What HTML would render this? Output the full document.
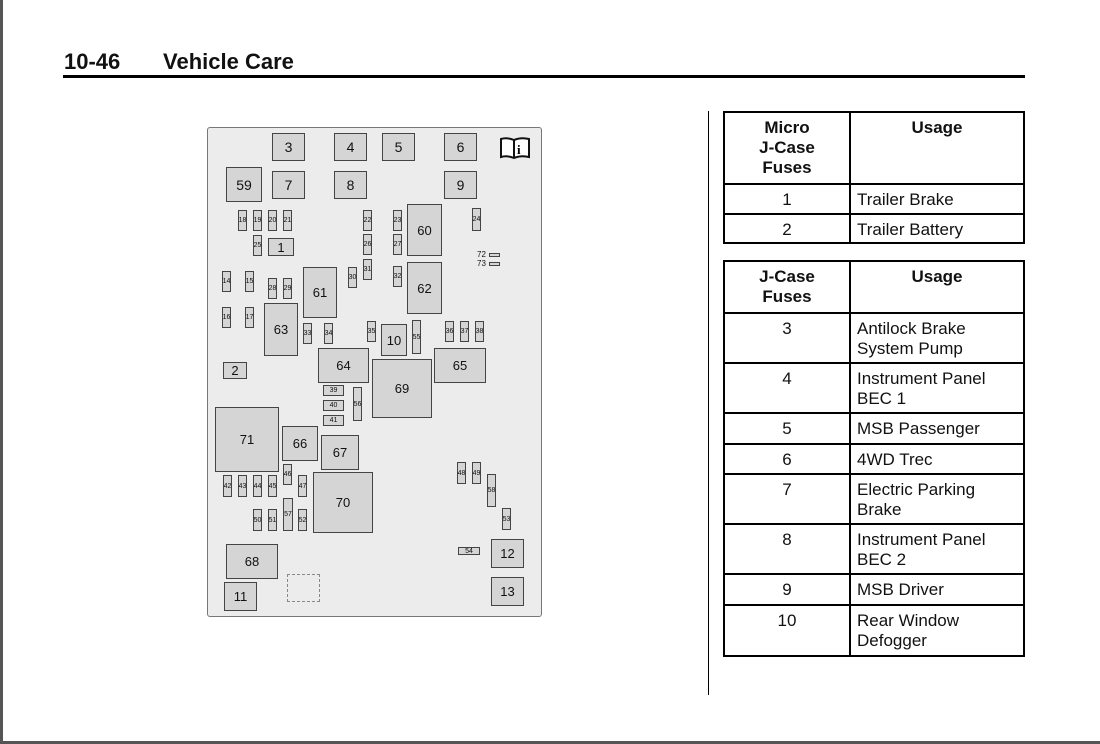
<!DOCTYPE html>
<html><head><meta charset="utf-8"><style>
*{margin:0;padding:0;box-sizing:border-box}
body{width:1100px;height:744px;background:#fff;position:relative;overflow:hidden;font-family:"Liberation Sans",Arial,sans-serif;color:#111}
.a{position:absolute}
.b{position:absolute;background:#d5d5d5;border:1px solid #444;display:flex;align-items:center;justify-content:center;font-size:14px;color:#111}
.s{font-size:7px}
.m{font-size:13px}
.cell{position:absolute;border:2px solid #000;font-size:17px;line-height:20px;padding-top:5px}
.c{text-align:center}
.l{padding-left:6px}
.h{font-weight:bold;text-align:center}
</style></head><body>
<div class="a" style="left:0;top:0;width:3px;height:744px;background:#555"></div>
<div class="a" style="left:0;top:741px;width:1100px;height:3px;background:#555"></div>
<div class="a" style="left:64px;top:49px;font-size:22px;font-weight:bold">10-46</div>
<div class="a" style="left:163px;top:49px;font-size:22px;font-weight:bold">Vehicle Care</div>
<div class="a" style="left:63px;top:75px;width:962px;height:3px;background:#000"></div>
<div class="a" style="left:708px;top:111px;width:1px;height:584px;background:#000"></div>

<div class="a" style="left:207px;top:127px;width:335px;height:490px;background:#ececec;border:1px solid #777;border-radius:3px"></div>
<div class="b" style="left:272px;top:133px;width:33px;height:28px">3</div>
<div class="b" style="left:334px;top:133px;width:33px;height:28px">4</div>
<div class="b" style="left:382px;top:133px;width:33px;height:28px">5</div>
<div class="b" style="left:444px;top:133px;width:33px;height:28px">6</div>
<svg class="a" style="left:499px;top:136px" width="32" height="24" viewBox="0 0 32 24"><path d="M2 3 Q8 1 15 4 Q22 1 30 3 V21 Q22 19 15 22 Q8 19 2 21 Z" fill="#fff" stroke="#111" stroke-width="2"/><line x1="15" y1="4" x2="15" y2="22" stroke="#111" stroke-width="2"/><text x="18" y="18" font-size="13" font-weight="bold" font-family="Liberation Serif">i</text></svg>
<div class="b" style="left:226px;top:167px;width:36px;height:35px">59</div>
<div class="b" style="left:272px;top:171px;width:33px;height:28px">7</div>
<div class="b" style="left:334px;top:171px;width:33px;height:28px">8</div>
<div class="b" style="left:444px;top:171px;width:33px;height:28px">9</div>
<div class="b s" style="left:238px;top:210px;width:9px;height:21px">18</div>
<div class="b s" style="left:253px;top:210px;width:9px;height:21px">19</div>
<div class="b s" style="left:268px;top:210px;width:9px;height:21px">20</div>
<div class="b s" style="left:283px;top:210px;width:9px;height:21px">21</div>
<div class="b s" style="left:363px;top:210px;width:9px;height:21px">22</div>
<div class="b s" style="left:393px;top:210px;width:9px;height:21px">23</div>
<div class="b m" style="left:407px;top:204px;width:35px;height:52px">60</div>
<div class="b s" style="left:472px;top:208px;width:9px;height:23px">24</div>
<div class="b s" style="left:253px;top:235px;width:9px;height:21px">25</div>
<div class="b m" style="left:268px;top:238px;width:26px;height:18px">1</div>
<div class="b s" style="left:363px;top:234px;width:9px;height:21px">26</div>
<div class="b s" style="left:393px;top:234px;width:9px;height:21px">27</div>
<div class="a" style="left:477px;top:250px;font-size:8px">72</div>
<div class="a" style="left:477px;top:259px;font-size:8px">73</div>
<div class="a" style="left:489px;top:253px;width:11px;height:4px;border:1px solid #444;background:#d5d5d5"></div>
<div class="a" style="left:489px;top:262px;width:11px;height:4px;border:1px solid #444;background:#d5d5d5"></div>
<div class="b s" style="left:222px;top:271px;width:9px;height:21px">14</div>
<div class="b s" style="left:245px;top:271px;width:9px;height:21px">15</div>
<div class="b s" style="left:268px;top:278px;width:9px;height:21px">28</div>
<div class="b s" style="left:283px;top:278px;width:9px;height:21px">29</div>
<div class="b m" style="left:303px;top:267px;width:34px;height:51px">61</div>
<div class="b s" style="left:348px;top:267px;width:9px;height:21px">30</div>
<div class="b s" style="left:363px;top:259px;width:9px;height:21px">31</div>
<div class="b s" style="left:393px;top:266px;width:9px;height:21px">32</div>
<div class="b m" style="left:407px;top:262px;width:35px;height:52px">62</div>
<div class="b s" style="left:222px;top:307px;width:9px;height:21px">16</div>
<div class="b s" style="left:245px;top:307px;width:9px;height:21px">17</div>
<div class="b m" style="left:264px;top:303px;width:34px;height:53px">63</div>
<div class="b s" style="left:303px;top:323px;width:9px;height:21px">33</div>
<div class="b s" style="left:324px;top:323px;width:9px;height:21px">34</div>
<div class="b s" style="left:367px;top:321px;width:9px;height:21px">35</div>
<div class="b m" style="left:381px;top:324px;width:26px;height:32px">10</div>
<div class="b s" style="left:412px;top:320px;width:9px;height:34px">55</div>
<div class="b s" style="left:445px;top:321px;width:9px;height:21px">36</div>
<div class="b s" style="left:460px;top:321px;width:9px;height:21px">37</div>
<div class="b s" style="left:475px;top:321px;width:9px;height:21px">38</div>
<div class="b m" style="left:318px;top:348px;width:51px;height:35px">64</div>
<div class="b m" style="left:434px;top:348px;width:52px;height:35px">65</div>
<div class="b m" style="left:223px;top:362px;width:24px;height:17px">2</div>
<div class="b m" style="left:372px;top:359px;width:60px;height:59px">69</div>
<div class="b s" style="left:323px;top:385px;width:21px;height:11px">39</div>
<div class="b s" style="left:323px;top:400px;width:21px;height:11px">40</div>
<div class="b s" style="left:323px;top:415px;width:21px;height:11px">41</div>
<div class="b s" style="left:353px;top:387px;width:9px;height:34px">56</div>
<div class="b m" style="left:215px;top:407px;width:64px;height:65px">71</div>
<div class="b m" style="left:282px;top:426px;width:36px;height:35px">66</div>
<div class="b m" style="left:321px;top:435px;width:38px;height:35px">67</div>
<div class="b m" style="left:313px;top:472px;width:60px;height:61px">70</div>
<div class="b s" style="left:283px;top:464px;width:9px;height:21px">46</div>
<div class="b s" style="left:223px;top:475px;width:9px;height:22px">42</div>
<div class="b s" style="left:238px;top:475px;width:9px;height:22px">43</div>
<div class="b s" style="left:253px;top:475px;width:9px;height:22px">44</div>
<div class="b s" style="left:268px;top:475px;width:9px;height:22px">45</div>
<div class="b s" style="left:298px;top:475px;width:9px;height:22px">47</div>
<div class="b s" style="left:253px;top:509px;width:9px;height:22px">50</div>
<div class="b s" style="left:268px;top:509px;width:9px;height:22px">51</div>
<div class="b s" style="left:283px;top:498px;width:10px;height:33px">57</div>
<div class="b s" style="left:298px;top:509px;width:9px;height:22px">52</div>
<div class="b s" style="left:457px;top:462px;width:9px;height:22px">48</div>
<div class="b s" style="left:472px;top:462px;width:9px;height:22px">49</div>
<div class="b s" style="left:487px;top:474px;width:9px;height:33px">58</div>
<div class="b s" style="left:502px;top:508px;width:9px;height:22px">53</div>
<div class="b s" style="left:458px;top:547px;width:22px;height:8px">54</div>
<div class="b m" style="left:491px;top:539px;width:33px;height:29px">12</div>
<div class="b m" style="left:491px;top:577px;width:33px;height:29px">13</div>
<div class="b m" style="left:226px;top:544px;width:52px;height:35px">68</div>
<div class="b m" style="left:224px;top:582px;width:33px;height:29px">11</div>
<div class="a" style="left:287px;top:574px;width:33px;height:28px;border:1px dashed #888"></div>

<!-- table 1 -->
<div class="cell h" style="left:723px;top:111px;width:128px;height:74px">Micro<br>J-Case<br>Fuses</div>
<div class="cell h" style="left:849px;top:111px;width:176px;height:74px">Usage</div>
<div class="cell c" style="left:723px;top:183px;width:128px;height:32px">1</div>
<div class="cell l" style="left:849px;top:183px;width:176px;height:32px">Trailer Brake</div>
<div class="cell c" style="left:723px;top:213px;width:128px;height:31px">2</div>
<div class="cell l" style="left:849px;top:213px;width:176px;height:31px">Trailer Battery</div>
<!-- table 2 -->
<div class="cell h" style="left:723px;top:260px;width:128px;height:54px">J-Case<br>Fuses</div>
<div class="cell h" style="left:849px;top:260px;width:176px;height:54px">Usage</div>
<div class="cell c" style="left:723px;top:312px;width:128px;height:52px">3</div>
<div class="cell l" style="left:849px;top:312px;width:176px;height:52px">Antilock Brake<br>System Pump</div>
<div class="cell c" style="left:723px;top:362px;width:128px;height:52px">4</div>
<div class="cell l" style="left:849px;top:362px;width:176px;height:52px">Instrument Panel<br>BEC 1</div>
<div class="cell c" style="left:723px;top:412px;width:128px;height:33px">5</div>
<div class="cell l" style="left:849px;top:412px;width:176px;height:33px">MSB Passenger</div>
<div class="cell c" style="left:723px;top:443px;width:128px;height:32px">6</div>
<div class="cell l" style="left:849px;top:443px;width:176px;height:32px">4WD Trec</div>
<div class="cell c" style="left:723px;top:473px;width:128px;height:52px">7</div>
<div class="cell l" style="left:849px;top:473px;width:176px;height:52px">Electric Parking<br>Brake</div>
<div class="cell c" style="left:723px;top:523px;width:128px;height:52px">8</div>
<div class="cell l" style="left:849px;top:523px;width:176px;height:52px">Instrument Panel<br>BEC 2</div>
<div class="cell c" style="left:723px;top:573px;width:128px;height:33px">9</div>
<div class="cell l" style="left:849px;top:573px;width:176px;height:33px">MSB Driver</div>
<div class="cell c" style="left:723px;top:604px;width:128px;height:53px">10</div>
<div class="cell l" style="left:849px;top:604px;width:176px;height:53px">Rear Window<br>Defogger</div>
</body></html>
